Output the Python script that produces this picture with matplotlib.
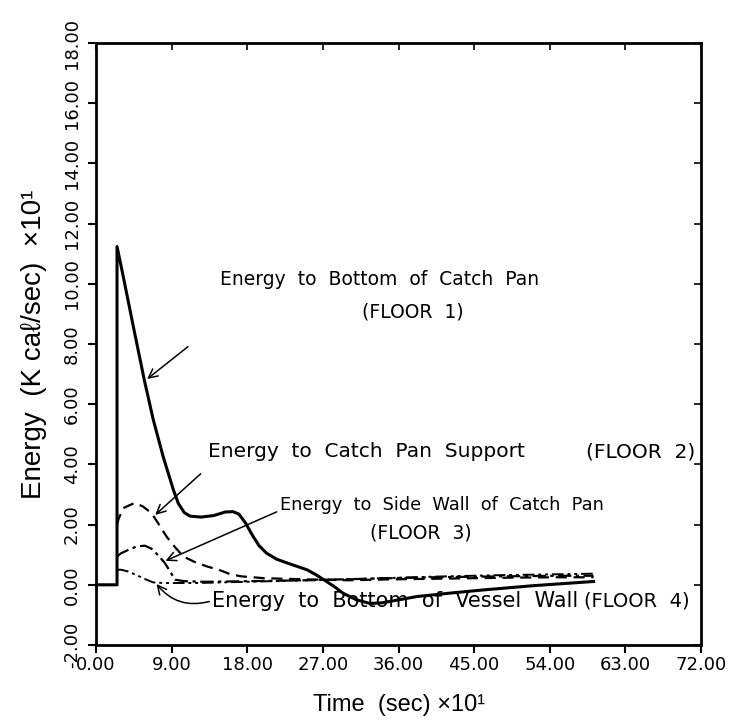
import matplotlib
matplotlib.use("Agg")
import matplotlib.pyplot as plt

# Energy release to the lower structures (time in units of 10 s, energy in 10 kcal/s)
t_floor1 = [0, 2.5, 2.5, 3.2, 4.5, 5.75, 6.8, 8.0, 9.2, 9.8, 10.5, 11.2, 12.5,
            14.0, 15.4, 16.3, 17.0, 17.8, 18.6, 19.4, 20.3, 21.5, 23.0, 25.1,
            26.2, 27.1, 28.3, 29.4, 31.0, 32.6, 34.0, 36.0, 38.2, 42.0, 46.1,
            52.0, 59.2]
e_floor1 = [0, 0, 11.24, 10.3, 8.5, 6.8, 5.5, 4.25, 3.16, 2.7, 2.4, 2.28, 2.25,
            2.3, 2.42, 2.43, 2.35, 2.05, 1.65, 1.3, 1.05, 0.85, 0.7, 0.5, 0.33,
            0.17, -0.05, -0.28, -0.5, -0.62, -0.6, -0.5, -0.39, -0.28, -0.17,
            -0.03, 0.11]

t_floor2 = [2.5, 2.7, 3.25, 4.6, 5.6, 6.6, 7.5, 8.4, 9.4, 10.4, 11.8, 13.2, 14.6,
            16.0, 17.3, 20, 25, 30, 35, 40, 45, 50, 55, 59.2]
e_floor2 = [2.0, 2.2, 2.55, 2.72, 2.6, 2.38, 2.0, 1.6, 1.25, 0.94, 0.75, 0.61, 0.5,
            0.35, 0.28, 0.22, 0.18, 0.15, 0.18, 0.2, 0.22, 0.24, 0.25, 0.25]

t_floor3 = [2.5, 3.0, 3.85, 4.8, 5.8, 6.6, 7.4, 8.2, 8.8, 9.4, 10.5, 13, 18, 25,
            32, 40, 48, 55, 59.2]
e_floor3 = [0.94, 1.05, 1.16, 1.27, 1.3, 1.2, 0.98, 0.72, 0.45, 0.17, 0.12, 0.1,
            0.12, 0.15, 0.2, 0.25, 0.28, 0.3, 0.3]

t_floor4 = [2.5, 3.0, 3.85, 5.0, 6.0, 6.8, 8, 12, 18, 25, 32, 40, 48, 55, 59.2]
e_floor4 = [0.5, 0.5, 0.44, 0.3, 0.17, 0.08, 0.06, 0.06, 0.1, 0.15, 0.2, 0.27,
            0.32, 0.35, 0.37]

x_ticks = [0, 9, 18, 27, 36, 45, 54, 63, 72]
y_ticks = [-2, 0, 2, 4, 6, 8, 10, 12, 14, 16, 18]

TEXT_FONT = ["Liberation Sans", "DejaVu Sans"]
NOTE_FONT = ["DejaVu Sans"]
TICK_FONT = ["DejaVu Sans"]

fig = plt.figure(figsize=(7.29, 7.27), dpi=100)
ax = fig.add_axes([0.1317, 0.1128, 0.830, 0.828])

ax.plot(t_floor1, e_floor1, color="black", lw=2.2)
ax.plot(t_floor2, e_floor2, color="black", lw=1.6, linestyle=(0, (5, 3)))
ax.plot(t_floor3, e_floor3, color="black", lw=1.6, linestyle=(0, (6, 2, 1.5, 2)))
ax.plot(t_floor4, e_floor4, color="black", lw=1.4,
        linestyle=(0, (6, 2, 1.5, 2, 1.5, 2)))

ax.set_xlim(0, 72)
ax.set_ylim(-2, 18)
ax.set_xticks(x_ticks)
ax.set_yticks(y_ticks)
ax.set_xticklabels([f"{v:.2f}" for v in x_ticks], family=TICK_FONT, fontsize=13)
ax.set_yticklabels([f"{v:.2f}" for v in y_ticks], family=TICK_FONT, fontsize=13,
                   rotation=90, va="center")
ax.tick_params(direction="out", length=6, width=1.5)
ax.tick_params(axis="x", pad=2)
ax.tick_params(axis="y", pad=5)
for spine in ax.spines.values():
    spine.set_linewidth(2)

# inward ticks on the top and right frame
top = ax.secondary_xaxis("top")
top.set_xticks(x_ticks)
top.tick_params(direction="in", length=5, width=1.2, labeltop=False)
right = ax.secondary_yaxis("right")
right.set_yticks(y_ticks)
right.tick_params(direction="in", length=5, width=1.2, labelright=False)

ax.set_xlabel("Time  (sec) \u00d710\u00b9", family=TEXT_FONT, fontsize=17, labelpad=14)
ax.set_ylabel("Energy  (K ca\u2113/sec)  \u00d710\u00b9", family=TEXT_FONT,
              fontsize=20, labelpad=11)

arrow = dict(arrowstyle="->", color="black", lw=1.1, mutation_scale=16)


def note(x, y, s, size, ha="left"):
    ax.text(x, y, s, ha=ha, va="center", family=NOTE_FONT, fontsize=size)


ax.annotate("", xy=(5.83, 6.78), xytext=(11.2, 7.97), arrowprops=arrow)
note(14.8, 10.13, "Energy  to  Bottom  of  Catch  Pan", 13.5)
note(37.7, 9.07, "(FLOOR  1)", 13.5, ha="center")

ax.annotate("", xy=(6.8, 2.26), xytext=(12.7, 3.75), arrowprops=arrow)
note(13.3, 4.42, "Energy  to  Catch  Pan  Support", 14.5)
note(71.3, 4.42, "(FLOOR  2)", 14.5, ha="right")

ax.annotate("", xy=(7.97, 0.76), xytext=(21.8, 2.46), arrowprops=arrow)
note(21.9, 2.66, "Energy  to  Side  Wall  of  Catch  Pan", 12.8)
note(38.6, 1.73, "(FLOOR  3)", 13.5, ha="center")

ax.annotate("", xy=(7.0, 0.1), xytext=(13.8, -0.53),
            arrowprops=dict(arrow, connectionstyle="arc3,rad=-0.35"))
note(13.8, -0.53, "Energy  to  Bottom  of  Vessel  Wall", 15)
note(70.6, -0.53, "(FLOOR  4)", 14, ha="right")

fig.savefig("out.png", dpi=100)
